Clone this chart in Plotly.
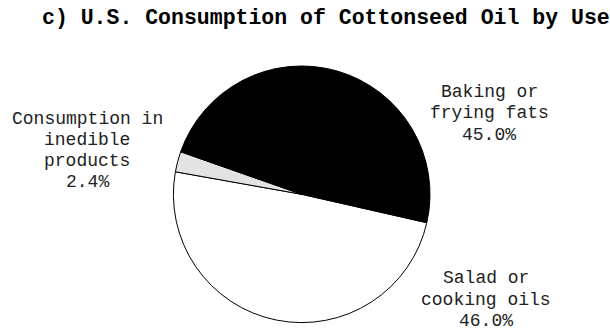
import plotly.graph_objects as go

W, H = 610, 331

# Cottonseed oil use shares (percent)
categories = ["Salad or cooking oils", "Consumption in inedible products", "Baking or frying fats"]
values = [46.0, 2.4, 45.0]
label_lines = [["Salad or", "cooking oils"], ["Consumption in", "inedible", "products"], ["Baking or", "frying fats"]]
colors = ["#ffffff", "#e3e3e3", "#000000"]

title_text = "c) U.S. Consumption of Cottonseed Oil by Use"

# pie geometry in pixels
cx, cy, r = 301.7, 194.3, 128.3

fig = go.Figure(
    go.Pie(
        labels=categories,
        values=values,
        sort=False,
        direction="clockwise",
        rotation=102.8,
        marker=dict(colors=colors, line=dict(color="#000000", width=1)),
        textinfo="none",
        hoverinfo="label+percent",
        showlegend=False,
        domain=dict(
            x=[(cx - r) / W, (cx + r) / W],
            y=[(H - cy - r) / H, (H - cy + r) / H],
        ),
    )
)

# label blocks: (center x, first line y, line step) in pixels
label_pos = [(486, 278, 21.5), (87, 118.8, 21.2), (489, 91.7, 21.5)]

annotations = []
for lines, v, (lx, ly, step) in zip(label_lines, values, label_pos):
    for i, line in enumerate(lines + [f"{v:.1f}%"]):
        annotations.append(
            dict(
                x=lx / W, y=1 - (ly + i * step) / H,
                xref="paper", yref="paper",
                xanchor="center", yanchor="middle",
                text=line, showarrow=False,
                font=dict(family="Liberation Mono, Courier New, monospace", size=18, color="#222222"),
            )
        )

annotations.append(
    dict(
        x=40 / W, y=1 - 18 / H, xref="paper", yref="paper",
        xanchor="left", yanchor="middle",
        text=f"<b>{title_text}</b>", showarrow=False,
        font=dict(family="Liberation Mono, Courier New, monospace", size=21.5, color="#000000"),
    )
)

fig.update_layout(
    width=W, height=H,
    margin=dict(l=0, r=0, t=0, b=0),
    paper_bgcolor="#ffffff",
    plot_bgcolor="#ffffff",
    annotations=annotations,
)

fig.write_html("out.html")
